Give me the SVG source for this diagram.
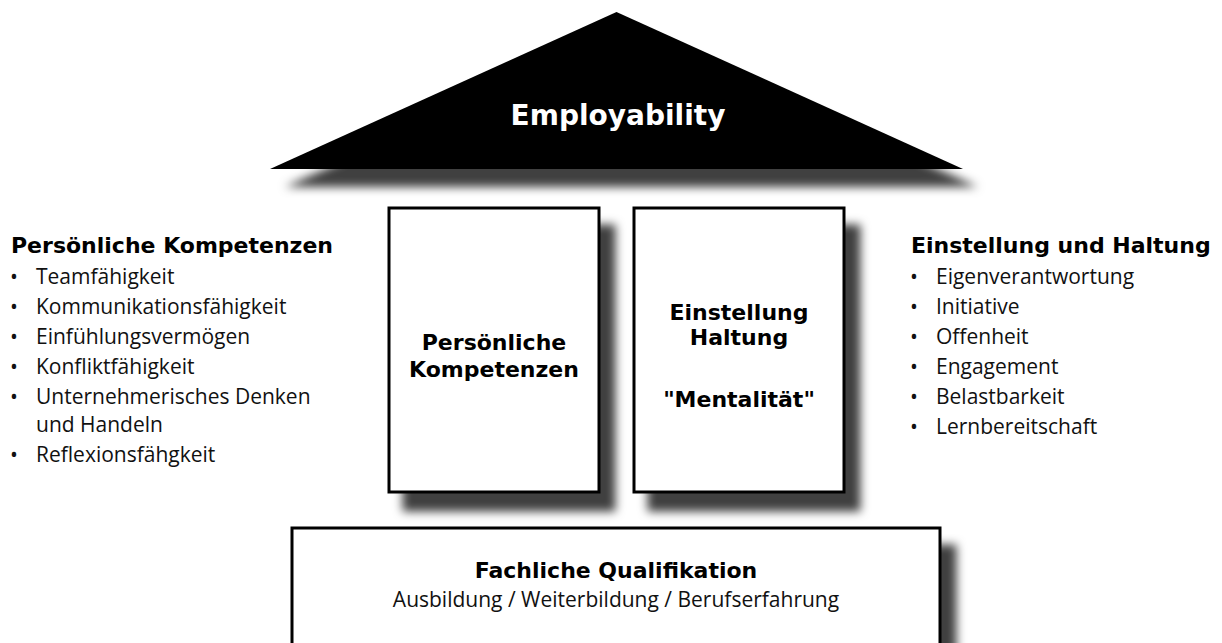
<svg xmlns="http://www.w3.org/2000/svg" width="1222" height="643" viewBox="0 0 1222 643">
<defs>
<filter id="shadow" x="-10%" y="-10%" width="130%" height="150%">
<feGaussianBlur in="SourceAlpha" stdDeviation="5"/>
<feOffset dx="15" dy="18" result="b"/>
<feFlood flood-color="#000" flood-opacity="0.75"/>
<feComposite in2="b" operator="in" result="s"/>
<feMerge><feMergeNode in="s"/><feMergeNode in="SourceGraphic"/></feMerge>
</filter>
</defs>
<style>
.box{fill:#fff;stroke:#000;stroke-width:3}
.b{font-family:"DejaVu Sans",Verdana,sans-serif;font-weight:bold;font-size:22px;fill:#000}
.r{font-family:"Open Sans","Noto Sans",sans-serif;font-size:21px;fill:#111}
.c{text-anchor:middle}
</style>
<rect width="1222" height="643" fill="#fff"/>
<g id="connectors"/>
<g id="roof">
<polygon points="616.5,12 963,169 270,169" fill="#000" filter="url(#shadow)"/>
<text class="b c" x="618" y="125" style="font-size:28px;fill:#fff">Employability</text>
</g>
<g id="pillar-left">
<rect class="box" x="389" y="208" width="210" height="284" filter="url(#shadow)"/>
<text class="b c" x="494" y="350">Persönliche</text>
<text class="b c" x="494" y="377">Kompetenzen</text>
</g>
<g id="pillar-right">
<rect class="box" x="634" y="208" width="210" height="284" filter="url(#shadow)"/>
<text class="b c" x="739" y="320">Einstellung</text>
<text class="b c" x="739" y="345">Haltung</text>
<text class="b c" x="739" y="407">"Mentalität"</text>
</g>
<g id="foundation">
<rect class="box" x="292" y="528" width="648" height="116.5" filter="url(#shadow)"/>
<text class="b c" x="616" y="578">Fachliche Qualifikation</text>
<text class="r c" x="616" y="607">Ausbildung / Weiterbildung / Berufserfahrung</text>
</g>
<g id="list-left">
<text class="b" x="11" y="253">Persönliche Kompetenzen</text>
<text class="r" x="10" y="284">•</text><text class="r" x="36" y="284">Teamfähigkeit</text>
<text class="r" x="10" y="314">•</text><text class="r" x="36" y="314">Kommunikationsfähigkeit</text>
<text class="r" x="10" y="344">•</text><text class="r" x="36" y="344">Einfühlungsvermögen</text>
<text class="r" x="10" y="374">•</text><text class="r" x="36" y="374">Konfliktfähigkeit</text>
<text class="r" x="10" y="404">•</text><text class="r" x="36" y="404">Unternehmerisches Denken</text>
<text class="r" x="36" y="432">und Handeln</text>
<text class="r" x="10" y="462">•</text><text class="r" x="36" y="462">Reflexionsfähgkeit</text>
</g>
<g id="list-right">
<text class="b" x="911" y="253">Einstellung und Haltung</text>
<text class="r" x="910" y="284">•</text><text class="r" x="936" y="284">Eigenverantwortung</text>
<text class="r" x="910" y="314">•</text><text class="r" x="936" y="314">Initiative</text>
<text class="r" x="910" y="344">•</text><text class="r" x="936" y="344">Offenheit</text>
<text class="r" x="910" y="374">•</text><text class="r" x="936" y="374">Engagement</text>
<text class="r" x="910" y="404">•</text><text class="r" x="936" y="404">Belastbarkeit</text>
<text class="r" x="910" y="434">•</text><text class="r" x="936" y="434">Lernbereitschaft</text>
</g>
</svg>
